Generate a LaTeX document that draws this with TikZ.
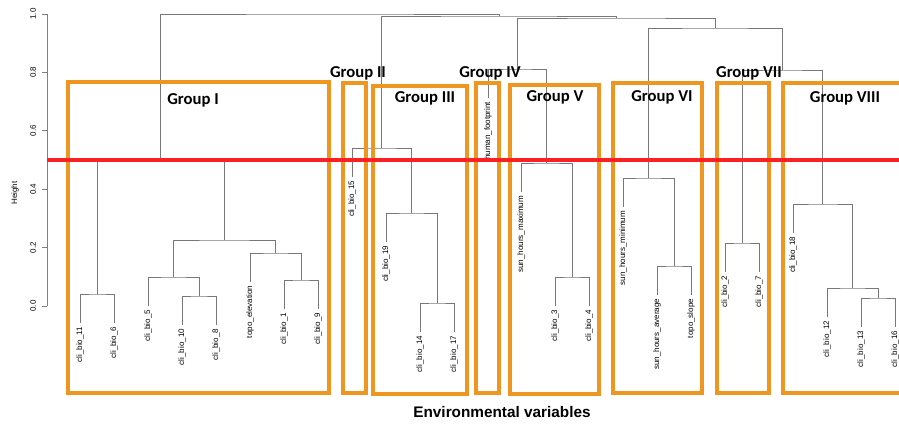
\documentclass[tikz,border=0pt]{standalone}
\usepackage{fontspec}
\setmainfont{Liberation Sans}
\newfontfamily\grpfont{Carlito}

\definecolor{boxorange}{RGB}{239,150,32}
\definecolor{cutred}{RGB}{250,32,36}
\definecolor{treegray}{RGB}{120,120,120}

\tikzset{every picture/.style={line width=0.75pt}}
\tikzset{
	leaf/.style={rotate=90,anchor=east,inner sep=2.6pt,font=\fontsize{6}{7}\selectfont},
	tree/.style={draw=treegray,line width=0.7pt},
	grpbox/.style={draw=boxorange,line width=2.3pt},
	grplab/.style={font=\grpfont\bfseries\fontsize{12.5}{14}\selectfont},
	cutline/.style={draw=cutred,line width=2.4pt},
	axisline/.style={draw=black!50,line width=0.7pt},
	ticklab/.style={rotate=90,font=\fontsize{6}{7}\selectfont}
}

\begin{document}
\begin{tikzpicture}[x=0.75pt,y=0.75pt,yscale=-1,xscale=1]
	\useasboundingbox (0,0) rectangle (899,425);
	\clip (0,0) rectangle (899,425);

	% Leaf labels
	\node[leaf] (cb11) at (80,323) {cli\_bio\_11};
	\node[leaf] (cb6) at (114,323) {cli\_bio\_6};
	\node[leaf] (cb5) at (148,306) {cli\_bio\_5};
	\node[leaf] (cb10) at (182,325) {cli\_bio\_10};
	\node[leaf] (cb8) at (216,325) {cli\_bio\_8};
	\node[leaf] (topoel) at (250,282) {topo\_elevation};
	\node[leaf] (cb1) at (284,309) {cli\_bio\_1};
	\node[leaf] (cb9) at (318,309) {cli\_bio\_9};
	\node[leaf] (cb15) at (352,177) {cli\_bio\_15};
	\node[leaf] (cb19) at (386,242) {cli\_bio\_19};
	\node[leaf] (cb14) at (420,332) {cli\_bio\_14};
	\node[leaf] (cb17) at (454,332) {cli\_bio\_17};
	\node[leaf] (humfp) at (488,98) {human\_footprint};
	\node[leaf] (sunmax) at (521,192) {sun\_hours\_maximum};
	\node[leaf] (cb3) at (555,306) {cli\_bio\_3};
	\node[leaf] (cb4) at (589,306) {cli\_bio\_4};
	\node[leaf] (sunmin) at (623,207) {sun\_hours\_minimum};
	\node[leaf] (sunavg) at (657,295) {sun\_hours\_average};
	\node[leaf] (toposl) at (691,295) {topo\_slope};
	\node[leaf] (cb2) at (725,272) {cli\_bio\_2};
	\node[leaf] (cb7) at (759,272) {cli\_bio\_7};
	\node[leaf] (cb18) at (793,233) {cli\_bio\_18};
	\node[leaf] (cb12) at (827,317) {cli\_bio\_12};
	\node[leaf] (cb13) at (861,327) {cli\_bio\_13};
	\node[leaf] (cb16) at (895,327) {cli\_bio\_16};

	% Merge points
	\coordinate (n11x6) at (97,294);
	\coordinate (n10x8) at (199,296);
	\coordinate (n5x108) at (173.5,277);
	\coordinate (n1x9) at (301,280);
	\coordinate (ntopo) at (275.5,253);
	\coordinate (nIb) at (224.5,240);
	\coordinate (nI) at (160.75,160);
	\coordinate (n14x17) at (437,303);
	\coordinate (nIII) at (411.5,213);
	\coordinate (nIIxIII) at (381.75,148);
	\coordinate (n3x4) at (572,277);
	\coordinate (nV) at (546.5,163);
	\coordinate (nIVxV) at (517.25,69);
	\coordinate (navgxsl) at (674,266);
	\coordinate (nVI) at (648.5,178);
	\coordinate (nVII) at (742,243);
	\coordinate (n13x16) at (878,298);
	\coordinate (n12x) at (852.5,288);
	\coordinate (nVIII) at (822.75,204);
	\coordinate (nE) at (782.4,70);
	\coordinate (nD) at (715.45,28);
	\coordinate (nC) at (616.35,18);
	\coordinate (nB) at (499.05,16);
	\coordinate (nroot) at (329.9,14);

	%Straight Lines: dendrogram
	\draw[tree] (cb11.east) |- (n11x6) -| (cb6.east);
	\draw[tree] (cb10.east) |- (n10x8) -| (cb8.east);
	\draw[tree] (cb5.east) |- (n5x108) -| (n10x8);
	\draw[tree] (cb1.east) |- (n1x9) -| (cb9.east);
	\draw[tree] (topoel.east) |- (ntopo) -| (n1x9);
	\draw[tree] (n5x108) |- (nIb) -| (ntopo);
	\draw[tree] (n11x6) |- (nI) -| (nIb);
	\draw[tree] (cb14.east) |- (n14x17) -| (cb17.east);
	\draw[tree] (cb19.east) |- (nIII) -| (n14x17);
	\draw[tree] (cb15.east) |- (nIIxIII) -| (nIII);
	\draw[tree] (cb3.east) |- (n3x4) -| (cb4.east);
	\draw[tree] (sunmax.east) |- (nV) -| (n3x4);
	\draw[tree] (humfp.east) |- (nIVxV) -| (nV);
	\draw[tree] (sunavg.east) |- (navgxsl) -| (toposl.east);
	\draw[tree] (sunmin.east) |- (nVI) -| (navgxsl);
	\draw[tree] (cb2.east) |- (nVII) -| (cb7.east);
	\draw[tree] (cb13.east) |- (n13x16) -| (cb16.east);
	\draw[tree] (cb12.east) |- (n12x) -| (n13x16);
	\draw[tree] (cb18.east) |- (nVIII) -| (n12x);
	\draw[tree] (nVII) |- (nE) -| (nVIII);
	\draw[tree] (nVI) |- (nD) -| (nE);
	\draw[tree] (nIVxV) |- (nC) -| (nD);
	\draw[tree] (nIIxIII) |- (nB) -| (nC);
	\draw[tree] (nI) |- (nroot) -| (nB);

	%Straight Lines: axis
	\draw[axisline] (47,14) -- (47,306);
	\draw[axisline] (42,306) -- (47,306);
	\draw[axisline] (42,247.6) -- (47,247.6);
	\draw[axisline] (42,189.2) -- (47,189.2);
	\draw[axisline] (42,130.8) -- (47,130.8);
	\draw[axisline] (42,72.4) -- (47,72.4);
	\draw[axisline] (42,14) -- (47,14);

	% Text Node
	\node[ticklab] (t00) at (33,306) {0.0};
	\node[ticklab] (t02) at (33,247.6) {0.2};
	\node[ticklab] (t04) at (33,189.2) {0.4};
	\node[ticklab] (t06) at (33,130.8) {0.6};
	\node[ticklab] (t08) at (33,72.4) {0.8};
	\node[ticklab] (t10) at (33,14) {1.0};
	\node[ticklab] (ylab) at (15,193) {Height};

	%Shape: Rectangle
	\draw[grpbox] (68,82) rectangle (329,393);
	\draw[grpbox] (343,83) rectangle (366,393);
	\draw[grpbox] (373,86) rectangle (467,394);
	\draw[grpbox] (476,83) rectangle (499,393);
	\draw[grpbox] (510,85) rectangle (599,394);
	\draw[grpbox] (613,83) rectangle (702,393);
	\draw[grpbox] (717,83) rectangle (769,393);
	\draw[grpbox] (783,83) rectangle (912,393);

	%Straight Lines: cut height
	\draw[cutline] (47,160) -- (899,160);

	% Text Node
	\node[grplab] (gI) at (193,100) {Group I};
	\node[grplab] (gII) at (358,73) {Group II};
	\node[grplab] (gIII) at (425,98) {Group III};
	\node[grplab] (gIV) at (490,73) {Group IV};
	\node[grplab] (gV) at (555,97) {Group V};
	\node[grplab] (gVI) at (662,97) {Group VI};
	\node[grplab] (gVII) at (749,73) {Group VII};
	\node[grplab] (gVIII) at (845,98) {Group VIII};
	% Text Node
	\node[font=\bfseries\fontsize{11.5}{14}\selectfont] (xlab) at (502,412) {Environmental variables};

\end{tikzpicture}
\end{document}
